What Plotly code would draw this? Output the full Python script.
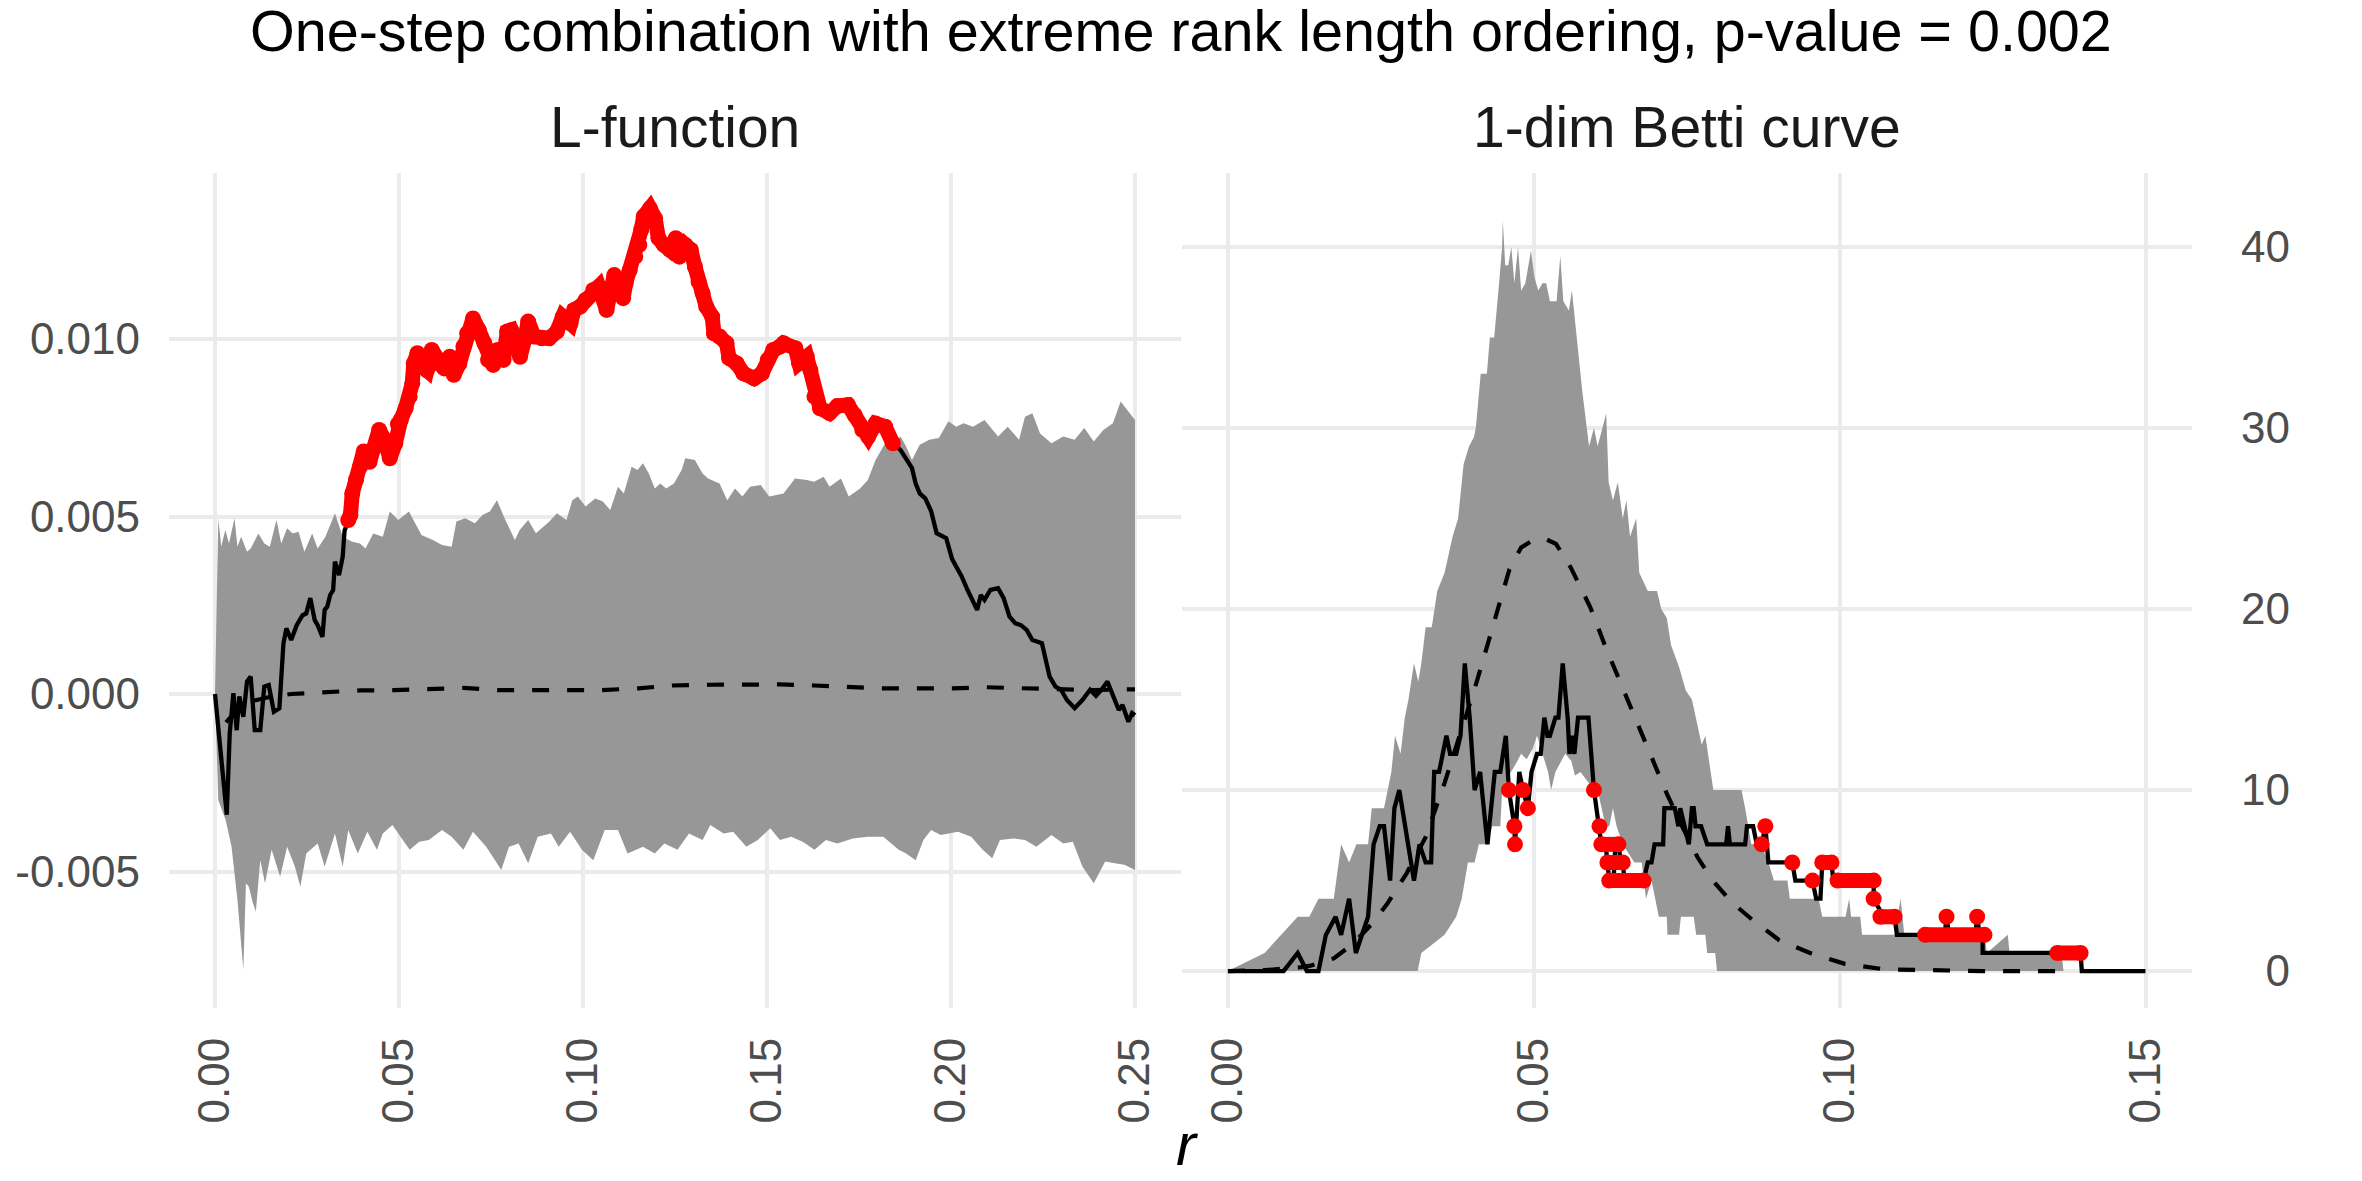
import plotly.graph_objects as go
import numpy as np

# ---------------- L-function panel ----------------
l_obs_r = [0.0000, 0.0032, 0.0040, 0.0050, 0.0059, 0.0066, 0.0077, 0.0087, 0.0097, 0.0108,
           0.0123, 0.0134, 0.0146, 0.0160, 0.0175, 0.0186, 0.0194, 0.0207, 0.0222, 0.0238,
           0.0248, 0.0259, 0.0271, 0.0279, 0.0292, 0.0298, 0.0305, 0.0313, 0.0321, 0.0326,
           0.0337, 0.0347, 0.0352, 0.0362, 0.0368, 0.0373, 0.0383, 0.0394, 0.0404, 0.0420,
           0.0435, 0.0446, 0.0461, 0.0475, 0.0490, 0.0497, 0.0505, 0.0518, 0.0529, 0.0536,
           0.0540, 0.0550, 0.0565, 0.0576, 0.0589, 0.0607, 0.0623, 0.0638, 0.0649, 0.0664,
           0.0675, 0.0685, 0.0701, 0.0717, 0.0732, 0.0742, 0.0756, 0.0768, 0.0784, 0.0794,
           0.0805, 0.0818, 0.0829, 0.0841, 0.0851, 0.0867, 0.0888, 0.0908, 0.0929, 0.0945,
           0.0966, 0.0976, 0.0992, 0.1007, 0.1028, 0.1043, 0.1064, 0.1078, 0.1085, 0.1101,
           0.1109, 0.1116, 0.1127, 0.1142, 0.1153, 0.1158, 0.1165, 0.1182, 0.1196, 0.1205,
           0.1220, 0.1236, 0.1252, 0.1262, 0.1278, 0.1293, 0.1304, 0.1314, 0.1325, 0.1335,
           0.1351, 0.1356, 0.1371, 0.1390, 0.1397, 0.1418, 0.1436, 0.1465, 0.1486, 0.1502,
           0.1517, 0.1536, 0.1545, 0.1577, 0.1587, 0.1608, 0.1618, 0.1629, 0.1644, 0.1670,
           0.1691, 0.1720, 0.1738, 0.1759, 0.1775, 0.1795, 0.1821, 0.1842, 0.1863, 0.1878,
           0.1894, 0.1904, 0.1915, 0.1930, 0.1946, 0.1961, 0.1987, 0.2003, 0.2029, 0.2045,
           0.2071, 0.2081, 0.2091, 0.2107, 0.2128, 0.2143, 0.2159, 0.2175, 0.2190, 0.2206,
           0.2221, 0.2247, 0.2268, 0.2284, 0.2299, 0.2315, 0.2336, 0.2357, 0.2378, 0.2394,
           0.2409, 0.2425, 0.2440, 0.2456, 0.2466, 0.2482, 0.2492, 0.2500]
l_obs = [0.00000, -0.00340, -0.00111, 0.00002, -0.00102, -0.00007, -0.00064, 0.00035, 0.00049, -0.00102,
         -0.00102, 0.00021, 0.00025, -0.00050, -0.00040, 0.00143, 0.00185, 0.00152, 0.00194, 0.00222,
         0.00227, 0.00270, 0.00208, 0.00194, 0.00161, 0.00237, 0.00246, 0.00279, 0.00293, 0.00373,
         0.00335, 0.00387, 0.00460, 0.00490, 0.00504, 0.00565, 0.00603, 0.00640, 0.00683, 0.00654,
         0.00697, 0.00744, 0.00716, 0.00664, 0.00706, 0.00760, 0.00773, 0.00805, 0.00838, 0.00875,
         0.00931, 0.00960, 0.00922, 0.00912, 0.00969, 0.00931, 0.00917, 0.00950, 0.00899, 0.00931,
         0.00979, 0.01016, 0.01058, 0.01025, 0.00988, 0.00941, 0.00927, 0.00969, 0.00941, 0.01021,
         0.01025, 0.00988, 0.00950, 0.00997, 0.01049, 0.01007, 0.01002, 0.01002, 0.01021, 0.01063,
         0.01044, 0.01082, 0.01091, 0.01110, 0.01138, 0.01147, 0.01082, 0.01147, 0.01180, 0.01138,
         0.01115, 0.01157, 0.01194, 0.01232, 0.01265, 0.01307, 0.01345, 0.01368, 0.01340, 0.01284,
         0.01265, 0.01251, 0.01284, 0.01232, 0.01265, 0.01251, 0.01204, 0.01161, 0.01129, 0.01091,
         0.01063, 0.01016, 0.01007, 0.00988, 0.00946, 0.00931, 0.00903, 0.00889, 0.00903, 0.00941,
         0.00969, 0.00979, 0.00988, 0.00974, 0.00932, 0.00950, 0.00912, 0.00838, 0.00805, 0.00791,
         0.00811, 0.00814, 0.00786, 0.00744, 0.00725, 0.00762, 0.00753, 0.00706, 0.00687, 0.00664,
         0.00636, 0.00593, 0.00565, 0.00551, 0.00515, 0.00453, 0.00439, 0.00380, 0.00331, 0.00293,
         0.00237, 0.00279, 0.00265, 0.00293, 0.00298, 0.00270, 0.00218, 0.00199, 0.00194, 0.00180,
         0.00152, 0.00143, 0.00049, 0.00021, 0.00012, -0.00017, -0.00040, -0.00017, 0.00012, -0.00005,
         0.00012, 0.00035, -0.00003, -0.00045, -0.00031, -0.00078, -0.00054, -0.00060]

l_mean_r = [0.0030, 0.0060, 0.0100, 0.0150, 0.0207, 0.0300, 0.0394, 0.0487, 0.0580, 0.0675,
            0.0768, 0.0862, 0.0955, 0.1049, 0.1150, 0.1243, 0.1348, 0.1441, 0.1535, 0.1628,
            0.1722, 0.1815, 0.1909, 0.2003, 0.2097, 0.2190, 0.2284, 0.2378, 0.2482, 0.2500]
l_mean = [-0.00080, -0.00045, -0.00020, -0.00008, 0.00000, 0.00004, 0.00010, 0.00011, 0.00014, 0.00017,
          0.00011, 0.00011, 0.00013, 0.00011, 0.00016, 0.00024, 0.00026, 0.00026, 0.00027, 0.00024,
          0.00020, 0.00016, 0.00016, 0.00016, 0.00019, 0.00016, 0.00013, 0.00011, 0.00013, 0.00013]

l_hi_r = [0.0000, 0.0009, 0.0017, 0.0028, 0.0038, 0.0053, 0.0061, 0.0071, 0.0087, 0.0097,
          0.0118, 0.0134, 0.0149, 0.0167, 0.0180, 0.0196, 0.0211, 0.0227, 0.0243, 0.0264,
          0.0279, 0.0300, 0.0326, 0.0347, 0.0373, 0.0394, 0.0409, 0.0430, 0.0456, 0.0475,
          0.0498, 0.0527, 0.0561, 0.0592, 0.0617, 0.0643, 0.0656, 0.0680, 0.0706, 0.0727,
          0.0747, 0.0766, 0.0789, 0.0815, 0.0828, 0.0851, 0.0872, 0.0908, 0.0929, 0.0955,
          0.0971, 0.0986, 0.1007, 0.1033, 0.1054, 0.1074, 0.1095, 0.1111, 0.1132, 0.1148,
          0.1163, 0.1179, 0.1195, 0.1210, 0.1226, 0.1247, 0.1268, 0.1278, 0.1304, 0.1325,
          0.1340, 0.1371, 0.1392, 0.1413, 0.1433, 0.1454, 0.1483, 0.1506, 0.1545, 0.1576,
          0.1608, 0.1628, 0.1654, 0.1670, 0.1701, 0.1722, 0.1753, 0.1774, 0.1795, 0.1821,
          0.1842, 0.1863, 0.1878, 0.1894, 0.1915, 0.1941, 0.1967, 0.1993, 0.2014, 0.2034,
          0.2060, 0.2091, 0.2128, 0.2154, 0.2185, 0.2201, 0.2221, 0.2242, 0.2273, 0.2305,
          0.2336, 0.2362, 0.2388, 0.2414, 0.2440, 0.2461, 0.2482, 0.2500]
l_hi = [0.00000, 0.00495, 0.00415, 0.00462, 0.00424, 0.00495, 0.00415, 0.00443, 0.00401, 0.00410,
        0.00452, 0.00424, 0.00415, 0.00490, 0.00424, 0.00467, 0.00452, 0.00457, 0.00401, 0.00452,
        0.00410, 0.00443, 0.00509, 0.00443, 0.00429, 0.00424, 0.00410, 0.00452, 0.00443, 0.00514,
        0.00490, 0.00514, 0.00448, 0.00434, 0.00420, 0.00415, 0.00486, 0.00495, 0.00481, 0.00504,
        0.00514, 0.00546, 0.00490, 0.00434, 0.00462, 0.00490, 0.00453, 0.00485, 0.00509, 0.00490,
        0.00546, 0.00556, 0.00528, 0.00551, 0.00542, 0.00518, 0.00584, 0.00565, 0.00640, 0.00631,
        0.00650, 0.00621, 0.00579, 0.00593, 0.00579, 0.00593, 0.00631, 0.00664, 0.00659, 0.00621,
        0.00607, 0.00593, 0.00546, 0.00579, 0.00556, 0.00584, 0.00589, 0.00556, 0.00565, 0.00607,
        0.00603, 0.00598, 0.00612, 0.00584, 0.00607, 0.00556, 0.00579, 0.00603, 0.00659, 0.00706,
        0.00706, 0.00725, 0.00697, 0.00659, 0.00702, 0.00716, 0.00721, 0.00768, 0.00753, 0.00763,
        0.00753, 0.00772, 0.00725, 0.00753, 0.00716, 0.00781, 0.00791, 0.00734, 0.00706, 0.00725,
        0.00716, 0.00749, 0.00711, 0.00744, 0.00763, 0.00824, 0.00796, 0.00772]

l_lo_r = [0.0000, 0.0009, 0.0029, 0.0045, 0.0061, 0.0077, 0.0084, 0.0092, 0.0103, 0.0111,
          0.0123, 0.0136, 0.0154, 0.0177, 0.0196, 0.0217, 0.0232, 0.0248, 0.0279, 0.0298,
          0.0326, 0.0347, 0.0362, 0.0388, 0.0414, 0.0440, 0.0456, 0.0482, 0.0503, 0.0529,
          0.0555, 0.0581, 0.0617, 0.0643, 0.0675, 0.0701, 0.0737, 0.0778, 0.0799, 0.0825,
          0.0851, 0.0877, 0.0913, 0.0934, 0.0965, 0.0997, 0.1028, 0.1059, 0.1095, 0.1121,
          0.1163, 0.1195, 0.1221, 0.1257, 0.1288, 0.1325, 0.1346, 0.1382, 0.1408, 0.1444,
          0.1475, 0.1509, 0.1535, 0.1566, 0.1597, 0.1629, 0.1660, 0.1691, 0.1733, 0.1774,
          0.1816, 0.1858, 0.1878, 0.1904, 0.1925, 0.1946, 0.1972, 0.2019, 0.2055, 0.2086,
          0.2112, 0.2133, 0.2169, 0.2201, 0.2232, 0.2273, 0.2305, 0.2331, 0.2357, 0.2388,
          0.2419, 0.2445, 0.2471, 0.2500]
l_lo = [0.00000, -0.00299, -0.00355, -0.00430, -0.00580, -0.00777, -0.00533, -0.00543, -0.00589, -0.00613,
        -0.00468, -0.00533, -0.00439, -0.00515, -0.00430, -0.00486, -0.00543, -0.00449, -0.00421, -0.00486,
        -0.00393, -0.00486, -0.00383, -0.00449, -0.00388, -0.00439, -0.00393, -0.00369, -0.00402, -0.00439,
        -0.00416, -0.00411, -0.00383, -0.00402, -0.00439, -0.00388, -0.00430, -0.00496, -0.00430, -0.00421,
        -0.00477, -0.00402, -0.00393, -0.00430, -0.00388, -0.00439, -0.00468, -0.00383, -0.00383, -0.00449,
        -0.00430, -0.00449, -0.00421, -0.00439, -0.00393, -0.00411, -0.00369, -0.00393, -0.00388, -0.00430,
        -0.00411, -0.00378, -0.00411, -0.00402, -0.00416, -0.00439, -0.00411, -0.00421, -0.00407, -0.00402,
        -0.00402, -0.00439, -0.00449, -0.00468, -0.00411, -0.00383, -0.00397, -0.00388, -0.00402, -0.00439,
        -0.00463, -0.00411, -0.00407, -0.00411, -0.00430, -0.00397, -0.00421, -0.00416, -0.00486, -0.00533,
        -0.00472, -0.00477, -0.00481, -0.00496]

# observed points flagged as outside the envelope
l_red_span = (0.0362, 0.1842)

# ---------------- 1-dim Betti curve panel ----------------
b_obs_r = [0.0000, 0.0091, 0.0114, 0.0129, 0.0148, 0.0160, 0.0176, 0.0185, 0.0198, 0.0209,
           0.0229, 0.0238, 0.0248, 0.0255, 0.0265, 0.0272, 0.0280, 0.0290, 0.0304, 0.0313,
           0.0323, 0.0332, 0.0337, 0.0345, 0.0357, 0.0363, 0.0373, 0.0380, 0.0387, 0.0395,
           0.0403, 0.0412, 0.0424, 0.0436, 0.0445, 0.0454, 0.0459, 0.0468, 0.0469, 0.0476,
           0.0482, 0.0490, 0.0496, 0.0505, 0.0511, 0.0517, 0.0522, 0.0526, 0.0535, 0.0540,
           0.0547, 0.0555, 0.0558, 0.0562, 0.0566, 0.0572, 0.0589, 0.0598, 0.0607, 0.0610,
           0.0617, 0.0620, 0.0623, 0.0630, 0.0633, 0.0638, 0.0642, 0.0645, 0.0648, 0.0679,
           0.0686, 0.0692, 0.0697, 0.0711, 0.0713, 0.0730, 0.0736, 0.0739, 0.0746, 0.0753,
           0.0758, 0.0761, 0.0764, 0.0773, 0.0783, 0.0814, 0.0817, 0.0820, 0.0845, 0.0848,
           0.0858, 0.0864, 0.0872, 0.0878, 0.0883, 0.0914, 0.0922, 0.0927, 0.0955, 0.0961,
           0.0968, 0.0971, 0.0986, 0.0989, 0.1055, 0.1055, 0.1071, 0.1089, 0.1093, 0.1171,
           0.1174, 0.1178, 0.1221, 0.1224, 0.1228, 0.1233, 0.1233, 0.1393, 0.1395, 0.1499]
b_obs = [0, 0, 1, 0, 0, 2, 3, 2, 4, 1,
         3, 7, 8, 8, 5, 9, 10, 8, 5, 7,
         6, 6, 11, 11, 13, 12, 12, 13, 17, 14,
         10, 11, 7, 11, 11, 13, 10, 8, 7, 11,
         10, 9, 11, 12, 12, 14, 13, 13, 14, 14,
         17, 14, 12, 13, 12, 14, 14, 10, 8, 7,
         7, 6, 5, 5, 7, 7, 6, 6, 5, 5,
         6, 6, 7, 7, 9, 9, 8, 9, 8, 7,
         9, 9, 8, 8, 7, 7, 8, 7, 7, 8,
         8, 7, 7, 8, 6, 6, 6, 5, 5, 4,
         4, 6, 6, 5, 5, 4, 3, 3, 2, 2,
         3, 2, 2, 3, 2, 2, 1, 1, 0, 0]

b_mean_r = [0.0000, 0.0060, 0.0116, 0.0135, 0.0173, 0.0204, 0.0235, 0.0260, 0.0292, 0.0323,
            0.0354, 0.0379, 0.0404, 0.0423, 0.0441, 0.0460, 0.0479, 0.0498, 0.0517, 0.0536,
            0.0560, 0.0592, 0.0617, 0.0642, 0.0667, 0.0692, 0.0717, 0.0742, 0.0767, 0.0792,
            0.0823, 0.0858, 0.0901, 0.0951, 0.1008, 0.1071, 0.1133, 0.1233, 0.1365]
b_mean = [0.0, 0.05, 0.2, 0.3, 0.7, 1.5, 2.6, 3.7, 5.4, 7.4,
          10.4, 13.0, 15.7, 17.9, 20.0, 22.2, 23.4, 23.8, 23.9, 23.6,
          22.3, 20.1, 17.9, 15.9, 13.8, 11.8, 9.8, 8.0, 6.3, 5.0,
          3.8, 2.8, 1.7, 1.0, 0.4, 0.1, 0.04, 0.0, 0.0]

b_hi_r = [0.0000, 0.0060, 0.0114, 0.0133, 0.0148, 0.0173, 0.0185, 0.0198, 0.0210, 0.0229,
          0.0235, 0.0255, 0.0267, 0.0273, 0.0282, 0.0289, 0.0295, 0.0304, 0.0311, 0.0316,
          0.0323, 0.0333, 0.0342, 0.0354, 0.0367, 0.0376, 0.0385, 0.0394, 0.0402, 0.0405,
          0.0413, 0.0423, 0.0428, 0.0435, 0.0443, 0.0448, 0.0449, 0.0453, 0.0458, 0.0463,
          0.0468, 0.0474, 0.0479, 0.0486, 0.0495, 0.0501, 0.0507, 0.0514, 0.0520, 0.0526,
          0.0537, 0.0543, 0.0548, 0.0557, 0.0562, 0.0570, 0.0579, 0.0590, 0.0598, 0.0604,
          0.0618, 0.0622, 0.0629, 0.0637, 0.0645, 0.0651, 0.0657, 0.0667, 0.0672, 0.0686,
          0.0701, 0.0708, 0.0717, 0.0724, 0.0737, 0.0748, 0.0758, 0.0774, 0.0780, 0.0793,
          0.0814, 0.0839, 0.0845, 0.0855, 0.0871, 0.0883, 0.0892, 0.0914, 0.0918, 0.0965,
          0.0971, 0.1009, 0.1015, 0.1018, 0.1033, 0.1036, 0.1089, 0.1099, 0.1105, 0.1236,
          0.1240, 0.1274, 0.1277, 0.1362, 0.1365]
b_hi = [0, 1, 3, 3, 4, 4, 7, 6, 7, 7,
        9, 9, 11, 13, 12, 14, 15, 17, 16, 17,
        19, 19, 21, 22, 24, 25, 28, 29, 29.5, 30,
        33, 33, 35, 35, 38, 40, 41.5, 39, 39, 40,
        38, 40, 37.6, 38, 39.8, 38.3, 37.6, 38, 38, 37,
        37, 39.5, 37, 36.5, 37.6, 35, 32, 29, 30, 29,
        30.8, 27, 26, 27, 25, 26, 24, 25, 22, 21,
        21, 20, 19.5, 18, 16.8, 15.5, 15, 12.5, 13, 10,
        10, 10, 9, 7, 7, 6, 5, 5, 4, 4,
        3, 3, 4, 3, 3, 2, 2, 4, 2, 2,
        1, 2, 1, 1, 0]

b_lo_r = [0.0000, 0.0310, 0.0316, 0.0354, 0.0373, 0.0382, 0.0392, 0.0403, 0.0410, 0.0423,
          0.0432, 0.0445, 0.0448, 0.0457, 0.0473, 0.0479, 0.0488, 0.0498, 0.0505, 0.0514,
          0.0523, 0.0528, 0.0535, 0.0551, 0.0561, 0.0567, 0.0576, 0.0585, 0.0598, 0.0604,
          0.0617, 0.0623, 0.0629, 0.0635, 0.0645, 0.0664, 0.0676, 0.0683, 0.0692, 0.0704,
          0.0717, 0.0718, 0.0737, 0.0740, 0.0761, 0.0765, 0.0780, 0.0783, 0.0796, 0.0799,
          0.1365]
b_lo = [0, 0, 1, 2, 3, 4, 6, 6, 7, 7,
        8, 8, 10, 10.7, 11.6, 12, 11.7, 12.3, 13, 12,
        11, 10, 11, 12, 11.6, 10.8, 11, 10.6, 10, 10,
        8, 8, 9, 8, 7, 6, 6, 4, 5, 3,
        3, 2, 2, 3, 3, 2, 2, 1, 1, 0,
        0]

# flagged observed points, one group per run of consecutive flagged points
b_red_groups_r = [[0.0459], [0.0468], [0.0469], [0.0482], [0.0490],
                  [0.0598], [0.0607], [0.0610, 0.0638], [0.0620, 0.0645], [0.0623, 0.0679],
                  [0.0872], [0.0878], [0.0922], [0.0955], [0.0971, 0.0986], [0.0996, 0.1055],
                  [0.1055], [0.1066, 0.1089], [0.1139, 0.1236], [0.1174], [0.1224], [0.1355, 0.1393]]
b_red_groups_v = [[10], [8], [7], [10], [9],
                  [10], [8], [7, 7], [6, 6], [5, 5],
                  [7], [8], [6], [5], [6, 6], [5, 5],
                  [4], [3, 3], [2, 2], [3], [3], [1, 1]]

# ---------------- axes ----------------
l_xticks = [0.00, 0.05, 0.10, 0.15, 0.20, 0.25]
l_xlabels = ['0.00', '0.05', '0.10', '0.15', '0.20', '0.25']
l_yticks = [-0.005, 0.000, 0.005, 0.010]
l_ylabels = ['-0.005', '0.000', '0.005', '0.010']
b_xticks = [0.00, 0.05, 0.10, 0.15]
b_xlabels = ['0.00', '0.05', '0.10', '0.15']
b_yticks = [0, 10, 20, 30, 40]
b_ylabels = ['\u20070', '10', '20', '30', '40']

FONT = 'Liberation Sans, Arial, Helvetica, sans-serif'
GREY = '#979797'
GRID = '#EBEBEB'
RED = '#FF0000'
TICK = '#4D4D4D'

# the page body adds an 8px margin, so the figure is laid out in window pixels minus that
OFF = 8
W, H = 2362 - 2 * OFF, 1181 - 2 * OFF


def px(x):
    return (x - OFF) / W


def py(y):
    return 1 - (y - OFF) / H


fig = go.Figure()


def add_panel(xa, ya, hi_r, hi, lo_r, lo, mean_r, mean, obs_r, obs, red_r, red_v):
    # envelope
    fig.add_trace(go.Scatter(
        x=list(hi_r) + list(lo_r)[::-1], y=list(hi) + list(lo)[::-1],
        fill='toself', fillcolor=GREY, line=dict(width=0), mode='lines',
        xaxis=xa, yaxis=ya, hoverinfo='skip'))
    # central function
    fig.add_trace(go.Scatter(
        x=mean_r, y=mean, mode='lines', xaxis=xa, yaxis=ya,
        line=dict(color='black', width=4.2, dash='17px,18px')))
    # observed
    fig.add_trace(go.Scatter(
        x=obs_r, y=obs, mode='lines', xaxis=xa, yaxis=ya,
        line=dict(color='black', width=4.3)))
    # flagged points
    fig.add_trace(go.Scatter(
        x=red_r, y=red_v, mode='lines+markers', xaxis=xa, yaxis=ya,
        line=dict(color=RED, width=15), marker=dict(color=RED, size=16),
        connectgaps=False))


l_r = np.array(l_obs_r)
l_mask = (l_r >= l_red_span[0]) & (l_r <= l_red_span[1])
add_panel('x', 'y', l_hi_r, l_hi, l_lo_r, l_lo, l_mean_r, l_mean, l_obs_r, l_obs,
          l_r[l_mask].tolist(), np.array(l_obs)[l_mask].tolist())

b_red_r, b_red_v = [], []
for gr, gv in zip(b_red_groups_r, b_red_groups_v):
    b_red_r += gr + [None]
    b_red_v += gv + [None]
add_panel('x2', 'y2', b_hi_r, b_hi, b_lo_r, b_lo, b_mean_r, b_mean, b_obs_r, b_obs,
          b_red_r, b_red_v)

y_dom = [py(1008), py(173)]
axis_common = dict(showgrid=True, gridcolor=GRID, gridwidth=3.5, zeroline=False,
                   showline=False, ticks='', tickfont=dict(family=FONT, size=44, color=TICK))

fig.update_layout(
    width=W, height=H,
    margin=dict(l=0, r=0, t=0, b=0),
    paper_bgcolor='white', plot_bgcolor='white',
    showlegend=False,
    font=dict(family=FONT),
    xaxis=dict(domain=[px(169), px(1181)], range=[-0.0125, 0.2625], anchor='y',
               tickvals=l_xticks, ticktext=l_xlabels, tickangle=-90,
               ticklabelstandoff=20, **axis_common),
    yaxis=dict(domain=y_dom, range=[-0.008845, 0.014676], anchor='x',
               tickvals=l_yticks, ticktext=l_ylabels, ticklabelstandoff=28, **axis_common),
    xaxis2=dict(domain=[px(1182), px(2192)], range=[-0.0075, 0.1575], anchor='y2',
                tickvals=b_xticks, ticktext=b_xlabels, tickangle=-90,
                ticklabelstandoff=20, **axis_common),
    yaxis2=dict(domain=y_dom, range=[-2.04, 44.09], anchor='x2', side='right',
                tickvals=b_yticks, ticktext=b_ylabels, ticklabelstandoff=48, **axis_common),
)

fig.add_annotation(text='One-step combination with extreme rank length ordering, p-value = 0.002',
                   x=px(1181), y=py(31), xref='paper', yref='paper', showarrow=False,
                   xanchor='center', yanchor='middle',
                   font=dict(family=FONT, size=57.5, color='black'))
fig.add_annotation(text='L-function', x=px(675), y=py(127), xref='paper', yref='paper',
                   showarrow=False, xanchor='center', yanchor='middle',
                   font=dict(family=FONT, size=57, color='#1A1A1A'))
fig.add_annotation(text='1-dim Betti curve', x=px(1687), y=py(127), xref='paper', yref='paper',
                   showarrow=False, xanchor='center', yanchor='middle',
                   font=dict(family=FONT, size=57, color='#1A1A1A'))
fig.add_annotation(text='<i>r</i>', x=px(1187), y=py(1144), xref='paper', yref='paper',
                   showarrow=False, xanchor='center', yanchor='middle',
                   font=dict(family=FONT, size=60, color='black'))

fig.write_html('out.html')
